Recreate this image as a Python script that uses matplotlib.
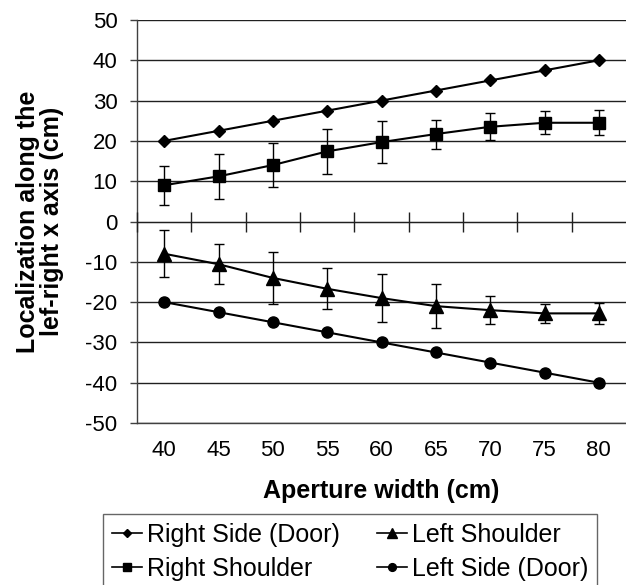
import matplotlib
matplotlib.use("Agg")
import matplotlib.pyplot as plt
import numpy as np

plt.rcParams['font.family'] = ['Liberation Sans', 'DejaVu Sans']
plt.rcParams['axes.unicode_minus'] = False

aperture = [40, 45, 50, 55, 60, 65, 70, 75, 80]
right_side_door = [20, 22.5, 25, 27.5, 30, 32.5, 35, 37.5, 40]
right_shoulder = [9.0, 11.2, 14.0, 17.4, 19.7, 21.7, 23.5, 24.5, 24.5]
right_shoulder_err = [4.8, 5.6, 5.4, 5.5, 5.3, 3.6, 3.4, 2.9, 3.1]
left_shoulder = [-8.0, -10.6, -14.0, -16.7, -19.0, -21.0, -22.0, -22.8, -22.8]
left_shoulder_err = [5.8, 4.9, 6.4, 5.1, 6.0, 5.5, 3.5, 2.3, 2.6]
left_side_door = [-20, -22.5, -25, -27.5, -30, -32.5, -35, -37.5, -40]
y_ticks = list(range(-50, 51, 10))

W, H = 626, 585
fig = plt.figure(figsize=(W / 100, H / 100), dpi=100)
ax = fig.add_axes([137 / W, 1 - 423 / H, (626 - 137) / W, (423 - 20) / H])

lc = 'black'
l1, = ax.plot(aperture, right_side_door, color=lc, lw=1.5, marker='D', ms=6.5,
              mfc=lc, mec=lc, label='Right Side (Door)', zorder=4)
c2 = ax.errorbar(aperture, right_shoulder, yerr=right_shoulder_err, color=lc, lw=1.5,
                 marker='s', ms=9, mfc=lc, mec=lc, ecolor=lc, elinewidth=1,
                 capsize=3.5, capthick=1, label='Right Shoulder', zorder=4)
c3 = ax.errorbar(aperture, left_shoulder, yerr=left_shoulder_err, color=lc, lw=1.5,
                 marker='^', ms=9.5, mfc=lc, mec=lc, ecolor=lc, elinewidth=1,
                 capsize=3.5, capthick=1, label='Left Shoulder', zorder=4)
l4, = ax.plot(aperture, left_side_door, color=lc, lw=1.5, marker='o', ms=8,
              mfc=lc, mec=lc, label='Left Side (Door)', zorder=4)

step = aperture[1] - aperture[0]
ax.set_xlim(aperture[0] - step / 2, aperture[-1] + step / 2)
ax.set_ylim(-50, 50)
ax.set_yticks(y_ticks)
ax.set_xticks(aperture)
ax.tick_params(axis='x', length=0, labelsize=16, pad=12)
ax.tick_params(axis='y', length=5, width=1, direction='out', labelsize=16,
               pad=9, color='#404040')
ax.yaxis.grid(True, color='#202020', lw=1)
ax.set_axisbelow(True)
for s in ['top', 'right']:
    ax.spines[s].set_visible(False)
ax.spines['left'].set_color('#404040')
ax.spines['bottom'].set_color('#404040')
ax.spines['left'].set_linewidth(1)
ax.spines['bottom'].set_linewidth(1)

# category boundary tick marks on the zero line
ax2 = ax.twiny()
ax2.set_xlim(ax.get_xlim())
bounds = [a + step / 2 for a in aperture[:-1]] + [aperture[0] - step / 2]
ax2.set_xticks(bounds)
ax2.xaxis.set_ticks_position('bottom')
ax2.spines['bottom'].set_position(('data', 0))
ax2.spines['bottom'].set_color('#202020')
for s in ['top', 'right', 'left']:
    ax2.spines[s].set_visible(False)
ax2.tick_params(axis='x', direction='inout', length=14, width=1,
                labelbottom=False, labeltop=False, color='#202020')

ax.set_xlabel('Aperture width (cm)', fontsize=18, fontweight='bold', labelpad=13)
ax.set_ylabel('Localization along the\nlef-right x axis (cm)', fontsize=18,
              fontweight='bold', labelpad=15, linespacing=1.05)

handles = [l1, c2[0], c3[0], l4]
labels = ['Right Side (Door)', 'Right Shoulder', 'Left Shoulder', 'Left Side (Door)']
leg = fig.legend(handles, labels, loc='upper left', bbox_to_anchor=(103 / W, 1 - 514 / H),
                 ncol=2, fontsize=18,
                 frameon=True, fancybox=False, edgecolor='#404040',
                 handlelength=1.2, handletextpad=0.2, columnspacing=1.5,
                 markerscale=0.7, borderpad=0.35, borderaxespad=0,
                 labelspacing=0.4)
leg.get_frame().set_linewidth(1)
for h in leg.get_lines():
    h.set_linewidth(1.2)

fig.savefig('out.png', dpi=100)
